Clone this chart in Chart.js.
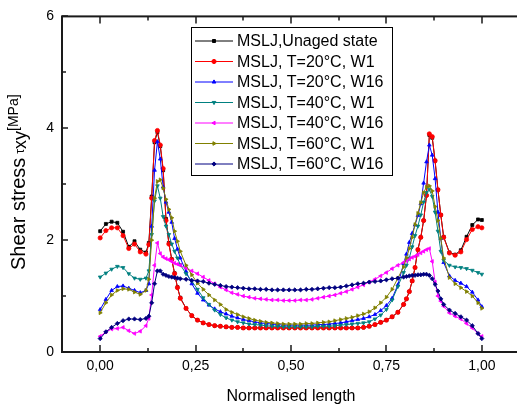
<!DOCTYPE html>
<html>
<head>
<meta charset="utf-8">
<script src="https://cdn.jsdelivr.net/npm/chart.js@4.4.1/dist/chart.umd.min.js"></script>
<style>
  html, body { margin: 0; padding: 0; overflow: hidden; background: #fff; }
  canvas { display: block; }
</style>
</head>
<body>
<canvas id="myChart" width="540" height="407"></canvas>
<script>
// positions along the joint (finer near the two stress peaks)
const xPositions = [
  0, 0.015, 0.03, 0.045, 0.06, 0.075, 0.09, 0.105, 0.12,
  0.1275, 0.135, 0.1425, 0.15, 0.1575, 0.165, 0.1725, 0.18, 0.1875, 0.195, 0.2025, 0.21,
  0.225, 0.24, 0.255, 0.27, 0.285, 0.3, 0.315, 0.33, 0.345, 0.36, 0.375, 0.39, 0.405, 0.42,
  0.435, 0.45, 0.465, 0.48, 0.495, 0.51, 0.525, 0.54, 0.555, 0.57, 0.585, 0.6, 0.615, 0.63,
  0.645, 0.66, 0.675, 0.69, 0.705, 0.72, 0.735, 0.75, 0.765, 0.78, 0.795,
  0.8025, 0.81, 0.8175, 0.825, 0.8325, 0.84, 0.8475, 0.855, 0.8625, 0.87, 0.8775, 0.885, 0.8925, 0.9,
  0.915, 0.93, 0.945, 0.96, 0.975, 0.99, 1.0
];

const unagedValues = [
  2.16, 2.29, 2.33, 2.31, 2.15, 1.88, 1.98, 1.83, 1.78,
  1.95, 2.78, 3.75, 3.93, 3.68, 3.25, 2.38, 1.95, 1.66, 1.41, 1.16, 0.97,
  0.78, 0.65, 0.57, 0.52, 0.49, 0.47, 0.46, 0.45, 0.44, 0.44, 0.43, 0.43, 0.43, 0.43,
  0.43, 0.43, 0.43, 0.43, 0.43, 0.43, 0.43, 0.43, 0.43, 0.43, 0.43, 0.43, 0.43, 0.43,
  0.43, 0.43, 0.43, 0.44, 0.46, 0.49, 0.53, 0.57, 0.63, 0.71, 0.85,
  0.95, 1.08, 1.27, 1.51, 1.83, 2.05, 2.35, 2.80, 3.88, 3.83, 3.42, 2.90, 2.45, 2.06,
  1.78, 1.74, 1.82, 2.06, 2.27, 2.37, 2.36
];

const t20w1Values = [
  2.04, 2.17, 2.22, 2.22, 2.08, 1.85, 1.93, 1.79, 1.75,
  1.92, 2.75, 3.78, 3.96, 3.70, 3.28, 2.35, 1.93, 1.65, 1.40, 1.15, 0.96,
  0.78, 0.65, 0.57, 0.52, 0.49, 0.47, 0.46, 0.45, 0.44, 0.44, 0.43, 0.43, 0.43, 0.43,
  0.43, 0.43, 0.43, 0.43, 0.43, 0.43, 0.43, 0.43, 0.43, 0.43, 0.43, 0.43, 0.43, 0.43,
  0.43, 0.43, 0.43, 0.44, 0.46, 0.49, 0.53, 0.57, 0.63, 0.71, 0.85,
  0.95, 1.08, 1.27, 1.51, 1.83, 2.05, 2.35, 2.80, 3.90, 3.85, 3.42, 2.90, 2.45, 2.05,
  1.77, 1.73, 1.79, 2.01, 2.19, 2.24, 2.22
];

const t20w16Values = [
  0.76, 0.94, 1.10, 1.17, 1.18, 1.14, 1.10, 1.06, 1.10,
  1.22, 2.25, 3.25, 3.76, 3.45, 2.95, 2.68, 2.50, 2.32, 2.03, 1.84, 1.68,
  1.44, 1.22, 1.05, 0.93, 0.84, 0.77, 0.72, 0.68, 0.64, 0.61, 0.58, 0.56, 0.54, 0.52,
  0.51, 0.50, 0.49, 0.48, 0.48, 0.48, 0.48, 0.48, 0.48, 0.49, 0.49, 0.50, 0.51, 0.52,
  0.54, 0.56, 0.58, 0.60, 0.63, 0.67, 0.74, 0.83, 0.96, 1.20, 1.58,
  1.75, 1.96, 2.12, 2.27, 2.44, 2.65, 3.02, 3.40, 3.70, 3.52, 3.10, 2.50, 2.03, 1.60,
  1.36, 1.28, 1.23, 1.17, 1.07, 0.93, 0.81
];

const t40w1Values = [
  1.34, 1.41, 1.48, 1.53, 1.51, 1.40, 1.32, 1.30, 1.32,
  1.45, 2.10, 2.70, 2.97, 2.75, 2.42, 2.25, 2.10, 1.93, 1.80, 1.68, 1.56,
  1.40, 1.27, 1.12, 0.97, 0.85, 0.75, 0.67, 0.61, 0.57, 0.54, 0.52, 0.50, 0.49, 0.48,
  0.47, 0.46, 0.46, 0.45, 0.45, 0.45, 0.45, 0.45, 0.45, 0.46, 0.46, 0.46, 0.47, 0.48,
  0.49, 0.50, 0.51, 0.52, 0.54, 0.59, 0.66, 0.76, 0.93, 1.17, 1.42,
  1.55, 1.68, 1.88, 2.08, 2.25, 2.45, 2.68, 2.85, 2.91, 2.78, 2.50, 2.16, 1.80, 1.64,
  1.55, 1.52, 1.51, 1.49, 1.46, 1.42, 1.39
];

const t40w16Values = [
  0.28, 0.36, 0.41, 0.42, 0.44, 0.38, 0.33, 0.37, 0.47,
  0.60, 1.02, 1.55, 1.95, 1.76, 1.70, 1.67, 1.65, 1.62, 1.59, 1.57, 1.55,
  1.50, 1.45, 1.40, 1.34, 1.28, 1.22, 1.16, 1.11, 1.06, 1.03, 1.00, 0.98, 0.96, 0.95,
  0.94, 0.93, 0.93, 0.92, 0.92, 0.92, 0.93, 0.93, 0.94, 0.96, 0.98, 1.00, 1.02, 1.05,
  1.08, 1.12, 1.16, 1.20, 1.25, 1.30, 1.36, 1.42, 1.49, 1.55, 1.60,
  1.63, 1.66, 1.69, 1.71, 1.74, 1.77, 1.80, 1.83, 1.85, 1.62, 1.25, 1.00, 0.91, 0.82,
  0.70, 0.64, 0.59, 0.51, 0.43, 0.33, 0.28
];

const t60w1Values = [
  0.70, 0.88, 1.02, 1.10, 1.13, 1.12, 1.07, 1.03, 1.10,
  1.30, 2.00, 2.75, 3.05, 3.08, 2.93, 2.73, 2.55, 2.40, 2.16, 1.98, 1.80,
  1.55, 1.38, 1.23, 1.12, 1.02, 0.93, 0.85, 0.76, 0.71, 0.67, 0.63, 0.60, 0.57, 0.55,
  0.53, 0.52, 0.51, 0.50, 0.50, 0.50, 0.50, 0.51, 0.51, 0.52, 0.53, 0.54, 0.56, 0.58,
  0.60, 0.62, 0.65, 0.68, 0.72, 0.79, 0.88, 0.98, 1.12, 1.32, 1.52,
  1.68, 1.85, 2.05, 2.28, 2.48, 2.67, 2.85, 2.95, 2.97, 2.88, 2.60, 2.35, 2.03, 1.68,
  1.33, 1.22, 1.15, 1.08, 1.00, 0.88, 0.78
];

const t60w16Values = [
  0.24, 0.36, 0.44, 0.51, 0.56, 0.59, 0.59, 0.58, 0.60,
  0.64, 0.88, 1.22, 1.45, 1.45, 1.39, 1.37, 1.35, 1.34, 1.33, 1.32, 1.31,
  1.30, 1.28, 1.27, 1.26, 1.23, 1.21, 1.19, 1.17, 1.16, 1.15, 1.14, 1.13, 1.13, 1.12,
  1.12, 1.11, 1.11, 1.11, 1.11, 1.11, 1.11, 1.12, 1.12, 1.13, 1.14, 1.15, 1.15, 1.16,
  1.18, 1.20, 1.22, 1.23, 1.25, 1.26, 1.27, 1.29, 1.31, 1.32, 1.34,
  1.35, 1.36, 1.37, 1.37, 1.38, 1.38, 1.39, 1.39, 1.37, 1.31, 1.21, 1.09, 0.95, 0.85,
  0.75, 0.69, 0.63, 0.57, 0.47, 0.33, 0.24
];

const seriesLabels = [
  "MSLJ,Unaged state",
  "MSLJ, T=20°C, W1",
  "MSLJ, T=20°C, W16",
  "MSLJ, T=40°C, W1",
  "MSLJ, T=40°C, W16",
  "MSLJ, T=60°C, W1",
  "MSLJ, T=60°C, W16"
];
const seriesValues = [unagedValues, t20w1Values, t20w16Values, t40w1Values, t40w16Values, t60w1Values, t60w16Values];
const seriesColors = ["#000000", "#ff0000", "#0000ff", "#008080", "#ff00ff", "#808000", "#000080"];
const seriesMarkers = ["rect", "circle", "triangle", "triangle", "triangle", "triangle", "rectRot"];
const seriesMarkerTurns = [0, 0, 0, 180, 270, 90, 0];

const xTickValues = [0, 0.25, 0.5, 0.75, 1.0];
const xMinorTicks = [0.125, 0.375, 0.625, 0.875];
const yTickValues = [0, 2, 4, 6];
const yMinorTicks = [1, 3, 5];

const FONT = "'Liberation Sans', Arial, sans-serif";

function toPoints(values) {
  return values.map(function (v, i) {
    return { x: xPositions[i], y: v };
  });
}

const datasets = seriesValues.map(function (values, i) {
  return {
    label: seriesLabels[i],
    data: toPoints(values),
    borderColor: seriesColors[i],
    backgroundColor: seriesColors[i],
    borderWidth: 1,
    pointStyle: seriesMarkers[i],
    pointRotation: seriesMarkerTurns[i],
    pointRadius: 2.1,
    pointBorderWidth: 0.8,
    tension: 0,
    order: seriesValues.length - i // later series drawn on top
  };
});

// frame + inward ticks, like the original plot
const frameTicks = {
  id: "frameTicks",
  afterDatasetsDraw: function (chart) {
    const ctx = chart.ctx;
    const a = chart.chartArea;
    const xs = chart.scales.x;
    const ys = chart.scales.y;
    ctx.save();
    ctx.strokeStyle = "#1a1a1a";
    ctx.lineWidth = 2;
    ctx.strokeRect(a.left, a.top, a.right - a.left, a.bottom - a.top);
    ctx.lineWidth = 1.5;
    ctx.beginPath();
    xTickValues.forEach(function (v) {
      const p = Math.round(xs.getPixelForValue(v));
      ctx.moveTo(p, a.bottom); ctx.lineTo(p, a.bottom - 7);
      ctx.moveTo(p, a.top); ctx.lineTo(p, a.top + 7);
    });
    xMinorTicks.forEach(function (v) {
      const p = Math.round(xs.getPixelForValue(v));
      ctx.moveTo(p, a.bottom); ctx.lineTo(p, a.bottom - 4);
      ctx.moveTo(p, a.top); ctx.lineTo(p, a.top + 4);
    });
    yTickValues.forEach(function (v) {
      const p = Math.round(ys.getPixelForValue(v));
      ctx.moveTo(a.left, p); ctx.lineTo(a.left + 6, p);
    });
    yMinorTicks.forEach(function (v) {
      const p = Math.round(ys.getPixelForValue(v));
      ctx.moveTo(a.left, p); ctx.lineTo(a.left + 4, p);
    });
    ctx.stroke();
    ctx.restore();
  }
};

// y title with the tau_xy and [MPa] pieces
const yTitle = {
  id: "yTitle",
  afterDraw: function (chart) {
    const ctx = chart.ctx;
    ctx.save();
    ctx.translate(25, 270);
    ctx.rotate(-Math.PI / 2);
    ctx.fillStyle = "#000";
    ctx.textBaseline = "alphabetic";
    ctx.font = "20px " + FONT;
    ctx.fillText("Shear stress", 0, 0);
    let pos = ctx.measureText("Shear stress").width + 4;
    ctx.font = "12px " + FONT;
    ctx.fillText("τ", pos, -1);
    pos += ctx.measureText("τ").width;
    ctx.font = "18px " + FONT;
    ctx.fillText("xy", pos, 1);
    pos += ctx.measureText("xy").width;
    ctx.font = "14px " + FONT;
    ctx.fillText("[MPa]", pos, -7);
    ctx.restore();
  }
};

// legend box sitting inside the plot
const boxLegend = {
  id: "boxLegend",
  afterDraw: function (chart) {
    const ctx = chart.ctx;
    ctx.save();
    ctx.fillStyle = "#fff";
    ctx.fillRect(191, 27, 201, 148);
    ctx.strokeStyle = "#000";
    ctx.lineWidth = 1;
    ctx.strokeRect(191.5, 27.5, 201, 148);
    chart.data.datasets.forEach(function (ds, i) {
      const y = 41 + i * 20.5;
      ctx.strokeStyle = ds.borderColor;
      ctx.lineWidth = 1;
      ctx.beginPath();
      ctx.moveTo(195, y);
      ctx.lineTo(233, y);
      ctx.stroke();
      ctx.fillStyle = ds.backgroundColor;
      Chart.helpers.drawPoint(ctx, {
        pointStyle: ds.pointStyle,
        rotation: ds.pointRotation,
        radius: 2.1,
        borderWidth: 0.8
      }, 214, y);
      ctx.fillStyle = "#000";
      ctx.font = "16px " + FONT;
      ctx.textBaseline = "middle";
      ctx.fillText(ds.label, 237, y + 1);
    });
    ctx.restore();
  }
};

new Chart(document.getElementById("myChart"), {
  type: "line",
  data: { datasets: datasets },
  options: {
    responsive: false,
    animation: false,
    layout: { padding: { left: 0, top: 13, right: 20, bottom: 0 } },
    plugins: {
      legend: { display: false },
      tooltip: { enabled: false }
    },
    scales: {
      x: {
        type: "linear",
        min: -0.1,
        max: 1.1,
        grid: { display: false, drawTicks: false },
        border: { display: false },
        afterBuildTicks: function (scale) {
          scale.ticks = xTickValues.map(function (v) { return { value: v }; });
        },
        afterFit: function (scale) { scale.height = 55; },
        ticks: {
          padding: 6,
          color: "#000",
          font: { family: FONT, size: 14 },
          maxRotation: 0,
          callback: function (v) { return v.toFixed(2).replace(".", ","); }
        },
        title: {
          display: true,
          text: "Normalised length",
          color: "#000",
          font: { family: FONT, size: 16 },
          padding: { top: 0, bottom: 1 }
        }
      },
      y: {
        min: 0,
        max: 6,
        grid: { display: false, drawTicks: false },
        border: { display: false },
        afterFit: function (scale) { scale.width = 62; },
        ticks: {
          stepSize: 2,
          padding: 8,
          color: "#000",
          font: { family: FONT, size: 14 }
        }
      }
    }
  },
  plugins: [frameTicks, yTitle, boxLegend]
});
</script>
</body>
</html>
